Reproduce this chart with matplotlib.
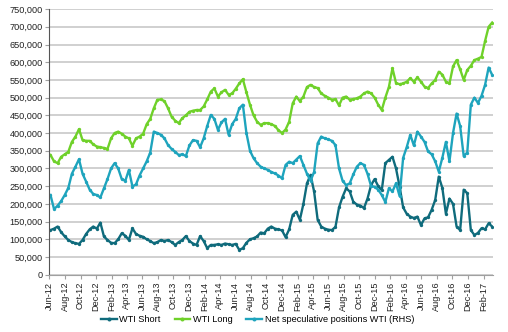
import numpy as np
import pandas as pd
import matplotlib
matplotlib.use("Agg")
import matplotlib.pyplot as plt
import matplotlib.dates as mdates
from matplotlib.ticker import FuncFormatter, MultipleLocator

plt.rcParams["font.family"] = ["Liberation Sans", "DejaVu Sans"]

dates = pd.date_range("2012-06-05", periods=125, freq="14D")

wti_short = [126, 130, 136, 120, 108, 98, 92, 89, 87, 98, 115, 128, 136, 130, 147, 108, 98, 90, 89, 100,
             117, 110, 98, 131, 115, 110, 107, 100, 95, 89, 92, 98, 95, 98, 92, 84, 92, 98, 109, 95,
             88, 84, 109, 95, 75, 84, 84, 86, 84, 88, 86, 84, 87, 70, 75, 90, 100, 103, 108, 119,
             117, 130, 136, 130, 128, 125, 106, 128, 169, 178, 155, 200, 258, 282, 235, 155, 136, 130, 127, 126,
             135, 190, 220, 244, 235, 206, 198, 195, 188, 215, 253, 270, 250, 239, 315, 324, 333, 300, 249, 190,
             172, 164, 160, 164, 140, 159, 162, 183, 211, 277, 245, 172, 215, 200, 136, 126, 240, 230, 126, 112,
             118, 131, 128, 145, 136]

wti_long = [338, 320, 315, 333, 340, 347, 375, 390, 411, 380, 378, 378, 368, 362, 360, 358, 355, 385, 400, 404,
            398, 390, 385, 364, 385, 390, 398, 425, 440, 470, 494, 495, 490, 470, 446, 435, 428, 442, 450, 460,
            463, 465, 465, 475, 495, 517, 526, 503, 515, 522, 508, 512, 525, 540, 552, 515, 480, 450, 432, 423,
            428, 428, 425, 420, 408, 400, 410, 432, 484, 503, 490, 503, 530, 536, 530, 527, 512, 505, 500, 494,
            496, 478, 500, 503, 494, 496, 498, 503, 512, 517, 512, 500, 480, 465, 500, 530, 583, 541, 538, 540,
            545, 555, 545, 557, 545, 531, 527, 540, 550, 573, 565, 545, 540, 588, 606, 580, 550, 578, 590, 606,
            610, 615, 660, 700, 712]

net_spec = [225, 185, 195, 208, 225, 245, 285, 305, 326, 285, 263, 240, 228, 225, 218, 244, 270, 300, 315, 300,
            270, 265, 296, 249, 255, 280, 300, 320, 345, 404, 400, 395, 385, 366, 355, 347, 338, 340, 335, 365,
            380, 378, 360, 385, 420, 451, 440, 409, 430, 440, 395, 425, 440, 470, 480, 400, 350, 329, 315, 305,
            300, 296, 290, 286, 280, 272, 310, 319, 315, 325, 335, 310, 285, 265, 290, 371, 390, 385, 382, 378,
            366, 300, 265, 253, 258, 283, 305, 315, 310, 285, 250, 248, 240, 225, 205, 244, 235, 258, 222, 330,
            360, 395, 365, 404, 390, 375, 348, 340, 320, 291, 330, 375, 320, 400, 455, 420, 335, 345, 480, 500,
            485, 505, 536, 585, 564]

series = [("WTI Short", wti_short, "#0f6b7c"),
          ("WTI Long", wti_long, "#6fd12a"),
          ("Net speculative positions WTI (RHS)", net_spec, "#1ea4bd")]

fig = plt.figure(figsize=(5.08, 3.32), dpi=100)
ax = fig.add_axes([0.0974, 0.1726, 0.873, 0.80])

for name, vals, col in series:
    ax.plot(dates, np.array(vals) * 1000, "-o", color=col, lw=1.7, ms=2.4, mew=0, label=name)

ax.set_ylim(0, 750000)
ax.yaxis.set_major_locator(MultipleLocator(50000))
ax.yaxis.set_major_formatter(FuncFormatter(lambda v, p: f"{int(v):,}"))
ax.set_xlim(pd.Timestamp("2012-06-01"), pd.Timestamp("2017-03-10"))
ax.xaxis.set_major_locator(mdates.MonthLocator(bymonth=[2, 4, 6, 8, 10, 12]))
ax.xaxis.set_major_formatter(mdates.DateFormatter("%b-%y"))
plt.setp(ax.get_xticklabels(), rotation=90)
ax.tick_params(axis="both", labelsize=6.6, length=3, color="#a0a0a0", colors="#222222", pad=2)
ax.grid(axis="y", color="#c4c4c4", lw=1.1)
ax.set_axisbelow(True)
for s in ["top", "right"]:
    ax.spines[s].set_visible(False)
ax.spines["left"].set_color("#555555")
ax.spines["bottom"].set_color("#a0a0a0")

handles, labels = ax.get_legend_handles_labels()
fig.legend(handles, labels, loc="center", bbox_to_anchor=(0.507, 0.037), ncol=3, frameon=False, fontsize=6.6,
           handlelength=1.7, columnspacing=1.5, handletextpad=0.3, borderpad=0, markerscale=1.2)

plt.savefig("out.png", dpi=100)
